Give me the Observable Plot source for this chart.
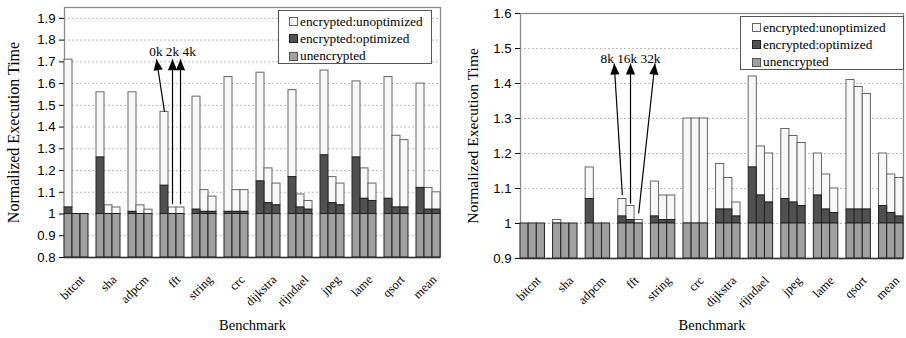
<!DOCTYPE html>
<html><head><meta charset="utf-8">
<script src="https://cdn.jsdelivr.net/npm/d3@7"></script>
<script src="https://cdn.jsdelivr.net/npm/@observablehq/plot@0.6"></script>
<style>
body{margin:0;background:#fff;}
#wrap{position:relative;width:906px;height:338px;overflow:hidden;background:#fff;}
#left{position:absolute;left:0;top:0;}
#right{position:absolute;left:460px;top:0;}
.legend{position:absolute;background:#fff;border:1px solid #555;box-sizing:border-box;font-family:"Liberation Serif","Times New Roman",serif;font-size:13.3px;color:#000;}
.legend .row{display:flex;align-items:center;height:17.3px;white-space:nowrap;}
.legend .sw{width:9px;height:9px;border:1px solid #333;margin-right:2px;box-sizing:border-box;flex:none;}
</style></head>
<body><div id="wrap"><div id="left"></div><div id="right"></div>
<div class="legend" id="legL" style="left:278px;top:10px;width:154px;height:54px;padding:2px 0 0 10px;"></div>
<div class="legend" id="legR" style="left:740px;top:16px;width:164px;height:54px;padding:2px 0 0 11px;"></div>
</div>
<script>
const benchmarks = ["bitcnt","sha","adpcm","fft","string","crc","dijkstra","rijndael","jpeg","lame","qsort","mean"];
const series = ["encrypted:unoptimized","encrypted:optimized","unencrypted"];
const unencrypted = 1.0;

// Left panel (cache sizes 0k / 2k / 4k)
const leftSizes = ["0k","2k","4k"];
const leftOptimized = [[1.03,1.00,1.00],[1.26,1.00,1.00],[1.01,1.00,1.00],[1.13,1.00,1.00],[1.02,1.01,1.01],[1.01,1.01,1.01],[1.15,1.05,1.04],[1.17,1.03,1.02],[1.27,1.05,1.04],[1.26,1.07,1.06],[1.07,1.03,1.03],[1.12,1.02,1.02]];
const leftUnoptimized = [[1.71,1.00,1.00],[1.56,1.04,1.03],[1.56,1.04,1.02],[1.47,1.03,1.03],[1.54,1.11,1.08],[1.63,1.11,1.11],[1.65,1.21,1.14],[1.57,1.09,1.06],[1.66,1.17,1.14],[1.61,1.21,1.14],[1.63,1.36,1.34],[1.60,1.12,1.10]];
const leftYDomain = [0.8, 1.95];
const leftYTicks = [0.8,0.9,1,1.1,1.2,1.3,1.4,1.5,1.6,1.7,1.8,1.9];
const leftArrows = [
  {from:"fft|0k", fromValue:1.47, to:"adpcm|gap", toValue:1.712},
  {from:"fft|2k", fromValue:1.045, to:"fft|2k", toValue:1.712},
  {from:"fft|4k", fromValue:1.045, to:"fft|4k", toValue:1.712}
];
const leftNote = {text:"0k 2k 4k", at:"fft|2k", value:1.745};

// Right panel (cache sizes 8k / 16k / 32k)
const rightSizes = ["8k","16k","32k"];
const rightOptimized = [[1,1,1],[1,1,1],[1.07,1,1],[1.02,1.01,1.00],[1.02,1.01,1.01],[1,1,1],[1.04,1.04,1.02],[1.16,1.08,1.06],[1.07,1.06,1.05],[1.08,1.04,1.03],[1.04,1.04,1.04],[1.05,1.03,1.02]];
const rightUnoptimized = [[1,1,1],[1.01,1,1],[1.16,1,1],[1.07,1.05,1.01],[1.12,1.08,1.08],[1.30,1.30,1.30],[1.17,1.13,1.06],[1.42,1.22,1.20],[1.27,1.25,1.23],[1.20,1.14,1.10],[1.41,1.39,1.37],[1.20,1.14,1.13]];
const rightYDomain = [0.9, 1.6];
const rightYTicks = [0.9,1,1.1,1.2,1.3,1.4,1.5,1.6];
const rightArrows = [
  {from:"fft|8k", fromValue:1.081, to:"adpcm|gap", toValue:1.457},
  {from:"fft|16k", fromValue:1.057, to:"fft|16k", toValue:1.457},
  {from:"fft|32k", fromValue:1.029, to:"string|8k", toValue:1.457}
];
const rightNote = {text:"8k 16k 32k", at:"fft|16k", value:1.472};

const colors = {unopt:"#f8f8f8", opt:"#505050", unenc:"#a0a0a0"};
const serif = "Liberation Serif, Times New Roman, serif";

function panel(cfg) {
  const {sizes, opt, unopt, yDomain, yTicks, arrows, note, width, marginLeft, marginRight, marginTop, marginBottom, yLabelDx, yLabelSize, benchDy} = cfg;
  const keys = benchmarks.flatMap((b, j) => [...sizes.map(s => b + "|" + s), ...(j < benchmarks.length - 1 ? [b + "|gap"] : [])]);
  const rows = benchmarks.flatMap((b, j) => sizes.map((s, k) => ({key: b + "|" + s, base: yDomain[0], unenc: unencrypted, opt: opt[j][k], unopt: unopt[j][k]})));
  const svg = Plot.plot({
    width, height: 338, marginLeft, marginRight, marginTop, marginBottom,
    style: {fontFamily: "Liberation Sans, Arial, sans-serif", fontSize: "13.2px", background: "#fff", color: "#000", overflow: "visible"},
    x: {domain: keys, padding: 0, axis: null, round: false},
    y: {domain: yDomain, ticks: yTicks, tickFormat: d => String(d), tickSize: 5, tickPadding: 4, label: null, line: true},
    marks: [
      Plot.ruleY(yTicks.slice(1), {stroke: "#bdbdbd", strokeDasharray: "2,2"}),
      Plot.frame({stroke: "#8a8a8a", strokeWidth: 1.3}),
      Plot.barY(rows, {x: "key", y1: "opt", y2: "unopt", fill: colors.unopt, stroke: "#666", strokeWidth: 1}),
      Plot.barY(rows, {x: "key", y1: "unenc", y2: "opt", fill: colors.opt, stroke: "#222", strokeWidth: 1}),
      Plot.barY(rows, {x: "key", y1: "base", y2: "unenc", fill: colors.unenc, stroke: "#222", strokeWidth: 1}),
      Plot.ruleY([yDomain[0]], {stroke: "#333", strokeWidth: 1.3}),
      Plot.link(arrows, {x1: "from", y1: "fromValue", x2: "to", y2: "toValue", stroke: "#000", strokeWidth: 1.2, markerEnd: "arrow"}),
      Plot.text([note], {x: "at", y: "value", text: "text", fontFamily: serif, fontSize: 13.3, fill: "#000"}),
      Plot.text(benchmarks, {x: b => b + "|" + sizes[1], y: () => yDomain[0], text: d => d, rotate: -45, textAnchor: "end", dx: 6, dy: 20, fontFamily: serif, fontSize: 12.5, fill: "#000"}),
      Plot.text(["Benchmark"], {text: d => d, frameAnchor: "bottom", textAnchor: "middle", dy: benchDy, fontFamily: serif, fontSize: 14.5, fill: "#000"}),
      Plot.text(["Normalized Execution Time"], {text: d => d, frameAnchor: "left", textAnchor: "middle", rotate: -90, dx: yLabelDx, fontFamily: serif, fontSize: yLabelSize, fill: "#000"})
    ]
  });
  // filled triangular arrow heads
  svg.querySelectorAll("marker").forEach(m => {
    m.setAttribute("viewBox", "-12 -5 12 10");
    m.setAttribute("markerUnits", "userSpaceOnUse");
    m.setAttribute("markerWidth", "12");
    m.setAttribute("markerHeight", "10");
    m.setAttribute("refX", "0");
    m.setAttribute("refY", "0");
    m.setAttribute("orient", "auto");
    while (m.firstChild) m.removeChild(m.firstChild);
    const p = document.createElementNS("http://www.w3.org/2000/svg", "path");
    p.setAttribute("d", "M-11,-4.6L0,0L-11,4.6Z");
    p.setAttribute("fill", "#000");
    p.setAttribute("stroke", "none");
    m.appendChild(p);
  });
  return svg;
}

document.getElementById("left").appendChild(panel({
  sizes: leftSizes, opt: leftOptimized, unopt: leftUnoptimized, yDomain: leftYDomain, yTicks: leftYTicks,
  arrows: leftArrows, note: leftNote, width: 460, marginLeft: 64, marginRight: 20, marginTop: 7, marginBottom: 81,
  yLabelDx: -51, yLabelSize: 16, benchDy: 72
}));
document.getElementById("right").appendChild(panel({
  sizes: rightSizes, opt: rightOptimized, unopt: rightUnoptimized, yDomain: rightYDomain, yTicks: rightYTicks,
  arrows: rightArrows, note: rightNote, width: 446, marginLeft: 60, marginRight: 3, marginTop: 13, marginBottom: 80,
  yLabelDx: -47, yLabelSize: 15.5, benchDy: 71
}));

const swatch = {"encrypted:unoptimized": [colors.unopt, "#666"], "encrypted:optimized": [colors.opt, "#222"], "unencrypted": [colors.unenc, "#555"]};
for (const id of ["legL", "legR"]) {
  const el = document.getElementById(id);
  for (const s of series) {
    const row = document.createElement("div");
    row.className = "row";
    const sw = document.createElement("span");
    sw.className = "sw";
    sw.style.background = swatch[s][0];
    sw.style.borderColor = swatch[s][1];
    const t = document.createElement("span");
    t.textContent = s;
    row.appendChild(sw); row.appendChild(t);
    el.appendChild(row);
  }
}
</script>
</body></html>
